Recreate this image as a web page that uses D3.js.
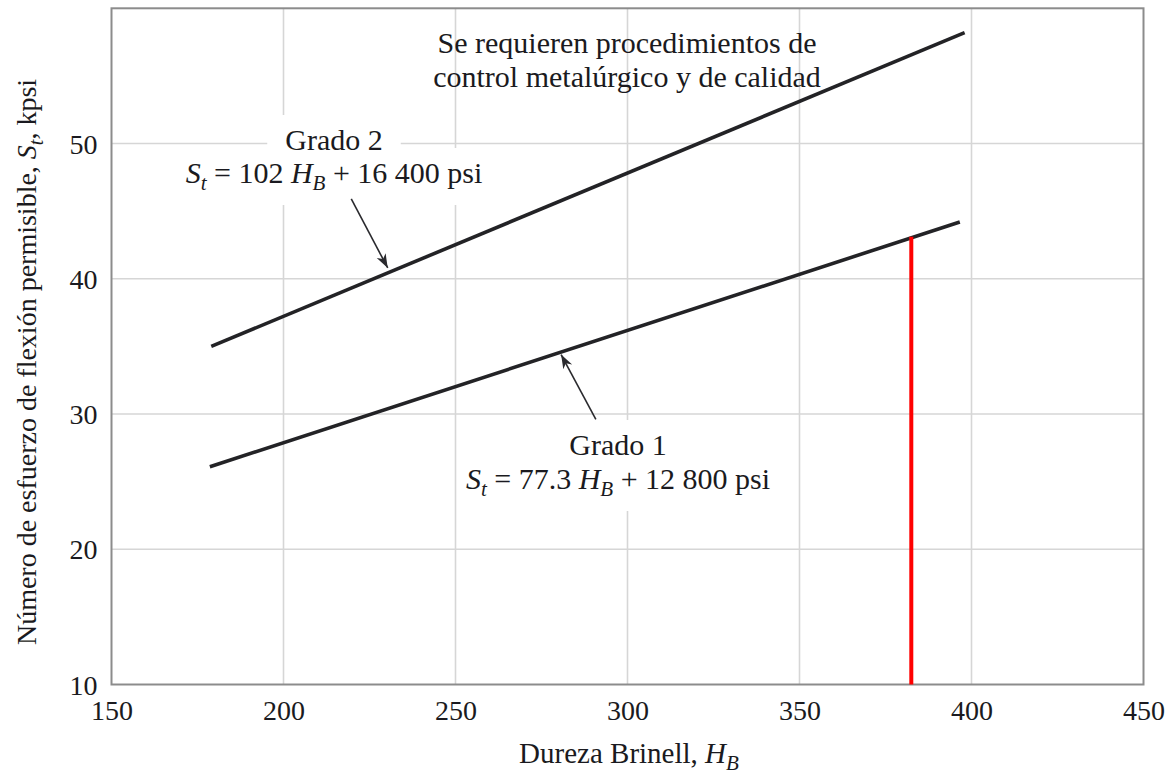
<!DOCTYPE html>
<html>
<head>
<meta charset="utf-8">
<script src="https://cdn.jsdelivr.net/npm/d3@7"></script>
<style>
  html, body { margin: 0; padding: 0; background: #fff; }
  svg { display: block; }
  text { font-family: "Liberation Serif", "Times New Roman", serif; fill: #1a1a20; }
</style>
</head>
<body>
<svg id="chart" width="1174" height="776"></svg>
<script>
// ---- data ----
const xTicks = [150, 200, 250, 300, 350, 400, 450];
const yTicks = [10, 20, 30, 40, 50];
const xDomain = [150, 450];
const yDomain = [10, 60];
// Grade lines (H_B, S_t kpsi)
const grado2 = [[179, 35.0], [398, 58.2]];
const grado1 = [[178.6, 26.1], [396.6, 44.2]];
// Red marker line
const redLine = [[382.5, 10], [382.5, 43.1]];
// Annotation arrows [tail, tip]
const arrow2 = [[219.7, 45.9], [230.3, 40.8]];
const arrow1 = [[290.8, 29.6], [280.7, 34.4]];

const svg = d3.select("#chart");
const x = d3.scaleLinear().domain(xDomain).range([111.5, 1143.5]);
const y = d3.scaleLinear().domain(yDomain).range([684.5, 8.3]);

// grid
const grid = svg.append("g");
grid.selectAll("line.v").data(xTicks.slice(1, -1)).join("line")
  .attr("x1", d => x(d)).attr("x2", d => x(d))
  .attr("y1", y(yDomain[0])).attr("y2", y(yDomain[1]))
  .attr("stroke", "#d6d6d6").attr("stroke-width", 1.6);
grid.selectAll("line.h").data(yTicks.slice(1)).join("line")
  .attr("x1", x(xDomain[0])).attr("x2", x(xDomain[1]))
  .attr("y1", d => y(d)).attr("y2", d => y(d))
  .attr("stroke", "#d6d6d6").attr("stroke-width", 1.6);

// axes (labels only)
const xAxis = svg.append("g").attr("transform", `translate(0,${y(yDomain[0])})`)
  .call(d3.axisBottom(x).tickValues(xTicks).tickSize(0).tickPadding(16).tickFormat(d3.format("d")));
xAxis.select(".domain").remove();
xAxis.selectAll("text").attr("font-size", 28).attr("font-family", "Liberation Serif").attr("fill", "#1a1a20");

const yAxis = svg.append("g").attr("transform", `translate(${x(xDomain[0])},0)`)
  .call(d3.axisLeft(y).tickValues(yTicks).tickSize(0).tickPadding(14).tickFormat(d3.format("d")));
yAxis.select(".domain").remove();
yAxis.selectAll("text").attr("font-size", 28).attr("font-family", "Liberation Serif").attr("fill", "#1a1a20").attr("dy", "0.34em");

// frame
svg.append("rect")
  .attr("x", x(xDomain[0])).attr("y", y(yDomain[1]))
  .attr("width", x(xDomain[1]) - x(xDomain[0]))
  .attr("height", y(yDomain[0]) - y(yDomain[1]))
  .attr("fill", "none").attr("stroke", "#8c8c8c").attr("stroke-width", 2);

// label helper with white background
function label(lines, cx, baselines, padX, padY, bg) {
  const g = svg.append("g");
  const bgG = g.append("g");
  lines.forEach((parts, i) => {
    const t = g.append("text").attr("x", cx).attr("y", baselines[i])
      .attr("text-anchor", "middle").attr("font-size", 30);
    parts.forEach(p => {
      const ts = t.append("tspan").text(p.t);
      if (p.it) ts.attr("font-style", "italic");
      if (p.sub) ts.attr("font-size", 21).attr("dy", 7);
      if (p.up) ts.attr("dy", -7);
    });
    if (bg) {
      const b = t.node().getBBox();
      bgG.append("rect").attr("x", b.x - padX).attr("y", b.y - padY + 4)
        .attr("width", b.width + 2 * padX).attr("height", b.height + 2 * padY - 6)
        .attr("fill", "#fff");
    }
  });
}

label([[{t: "Se requieren procedimientos de"}], [{t: "control metalúrgico y de calidad"}]],
  627, [53, 87], 0, 0, false);

label([[{t: "Grado 2"}],
       [{t: "S", it: true}, {t: "t", it: true, sub: true}, {t: " = 102 ", up: true}, {t: "H", it: true},
        {t: "B", it: true, sub: true}, {t: " + 16 400 psi", up: true}]],
  334, [150, 183], 18, 12, true);

label([[{t: "Grado 1"}],
       [{t: "S", it: true}, {t: "t", it: true, sub: true}, {t: " = 77.3 ", up: true}, {t: "H", it: true},
        {t: "B", it: true, sub: true}, {t: " + 12 800 psi", up: true}]],
  618, [455, 489], 8, 12, true);

// x title
const xt = svg.append("text").attr("x", 629).attr("y", 763).attr("text-anchor", "middle").attr("font-size", 29);
xt.append("tspan").text("Dureza Brinell, ");
xt.append("tspan").attr("font-style", "italic").text("H");
xt.append("tspan").attr("font-style", "italic").attr("font-size", 21).attr("dy", 7).text("B");

// y title
const yt = svg.append("text").attr("transform", "translate(36,362) rotate(-90)")
  .attr("text-anchor", "middle").attr("font-size", 28);
yt.append("tspan").text("Número de esfuerzo de flexión permisible, ");
yt.append("tspan").attr("font-style", "italic").text("S");
yt.append("tspan").attr("font-style", "italic").attr("font-size", 20).attr("dy", 7).text("t");
yt.append("tspan").attr("dy", -7).text(", kpsi");

// grade lines
const line = d3.line().x(d => x(d[0])).y(d => y(d[1]));
[grado2, grado1].forEach(d => {
  svg.append("path").datum(d).attr("d", line)
    .attr("fill", "none").attr("stroke", "#232326").attr("stroke-width", 3.6);
});

// red line
svg.append("path").datum(redLine).attr("d", line)
  .attr("fill", "none").attr("stroke", "#ff0000").attr("stroke-width", 4);

// arrows
const defs = svg.append("defs");
defs.append("marker").attr("id", "ah").attr("viewBox", "-14 -6 16 12")
  .attr("refX", 0).attr("refY", 0).attr("markerWidth", 16).attr("markerHeight", 12)
  .attr("markerUnits", "userSpaceOnUse").attr("orient", "auto")
  .append("path").attr("d", "M0,0 L-14,-5 L-10,0 L-14,5 Z").attr("fill", "#2a2a2e");
[arrow2, arrow1].forEach(d => {
  svg.append("path").datum(d).attr("d", line)
    .attr("fill", "none").attr("stroke", "#2a2a2e").attr("stroke-width", 1.6)
    .attr("marker-end", "url(#ah)");
});
</script>
</body>
</html>
